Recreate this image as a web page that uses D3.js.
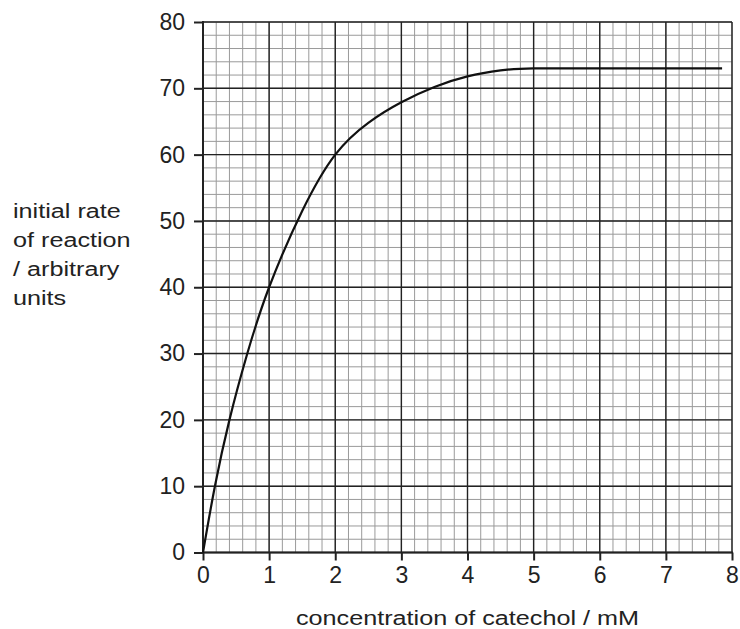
<!DOCTYPE html>
<html>
<head>
<meta charset="utf-8">
<script src="https://cdn.jsdelivr.net/npm/d3@7"></script>
<style>
  body { margin: 0; background: #fff; }
  text { font-family: "Liberation Sans", Arial, sans-serif; fill: #222; }
</style>
</head>
<body>
<svg id="chart" width="740" height="629"></svg>
<script>
// concentration of catechol (mM) vs initial rate (arbitrary units)
var concentration = [0, 0.18, 0.4, 0.67, 1, 1.5, 2, 2.5, 3, 3.5, 4, 4.5, 5, 6, 7, 7.85];
var rate = [0, 10, 20, 30, 40, 51.5, 60, 64.8, 67.9, 70.2, 71.8, 72.7, 73, 73, 73, 73];

var xTicks = [0, 1, 2, 3, 4, 5, 6, 7, 8];
var yTicks = [0, 10, 20, 30, 40, 50, 60, 70, 80];
var yLabelLines = ["initial rate", "of reaction", "/ arbitrary", "units"];
var xTitle = "concentration of catechol / mM";

var svg = d3.select("#chart"),
    margin = {top: 22, right: 8, bottom: 76, left: 203},
    width = +svg.attr("width"),
    height = +svg.attr("height");

var stretch = 1.2; // the title lettering in the picture is wide

var x = d3.scaleLinear().domain([0, 8]).range([margin.left, width - margin.right]);
var y = d3.scaleLinear().domain([0, 80]).range([height - margin.bottom - 0.5, margin.top]);

var data = concentration.map(function(c, i) { return {x: c, y: rate[i]}; });

// minor grid
var minorX = d3.range(0, 8.001, 0.2), minorY = d3.range(0, 80.001, 2);
var grid = svg.append("g");
grid.selectAll(".vminor").data(minorX).enter().append("line")
    .attr("x1", d => x(d)).attr("x2", d => x(d))
    .attr("y1", y(0)).attr("y2", y(80))
    .style("stroke", "#9a9a9a").style("stroke-width", 1);
grid.selectAll(".hminor").data(minorY).enter().append("line")
    .attr("y1", d => y(d)).attr("y2", d => y(d))
    .attr("x1", x(0)).attr("x2", x(8))
    .style("stroke", "#9a9a9a").style("stroke-width", 1);

// major grid
grid.selectAll(".vmajor").data(xTicks).enter().append("line")
    .attr("x1", d => x(d)).attr("x2", d => x(d))
    .attr("y1", y(0)).attr("y2", y(80))
    .style("stroke", "#222").style("stroke-width", 1.4);
grid.selectAll(".hmajor").data(yTicks).enter().append("line")
    .attr("y1", d => y(d)).attr("y2", d => y(d))
    .attr("x1", x(0)).attr("x2", x(8))
    .style("stroke", "#222").style("stroke-width", 1.4);

// axes
var xAxis = svg.append("g")
    .attr("transform", "translate(0," + y(0) + ")")
    .call(d3.axisBottom(x).tickValues(xTicks).tickSize(8).tickPadding(6).tickFormat(d3.format("d")));
var yAxis = svg.append("g")
    .attr("transform", "translate(" + x(0) + ",0)")
    .call(d3.axisLeft(y).tickValues(yTicks).tickSize(9).tickPadding(9).tickFormat(d3.format("d")));

[xAxis, yAxis].forEach(function(ax) {
    ax.select(".domain").remove();
    ax.selectAll(".tick line").style("stroke", "#222").style("stroke-width", 2);
    ax.selectAll(".tick text").style("font-size", "23px").style("fill", "#222");
});

// axis lines (left and bottom heavier)
svg.append("line").attr("x1", x(0)).attr("x2", x(0)).attr("y1", y(0) + 1).attr("y2", y(80) - 1)
    .style("stroke", "#222").style("stroke-width", 2);
svg.append("line").attr("x1", x(0) - 1).attr("x2", x(8) + 1).attr("y1", y(0)).attr("y2", y(0))
    .style("stroke", "#222").style("stroke-width", 2);

// curve
var line = d3.line()
    .curve(d3.curveNatural)
    .x(d => x(d.x))
    .y(d => y(d.y));

svg.append("path")
    .datum(data)
    .attr("d", line)
    .style("fill", "none")
    .style("stroke", "#111")
    .style("stroke-width", 2.2);

// titles
svg.append("text")
    .attr("transform", "translate(" + x(4) + ",625) scale(" + stretch + ",1)")
    .attr("text-anchor", "middle")
    .style("font-size", "21px")
    .text(xTitle);

svg.selectAll(".ylab").data(yLabelLines).enter().append("text")
    .attr("transform", (d, i) => "translate(13," + (218 + i * 29) + ") scale(" + stretch + ",1)")
    .style("font-size", "21px")
    .text(d => d);
</script>
</body>
</html>
